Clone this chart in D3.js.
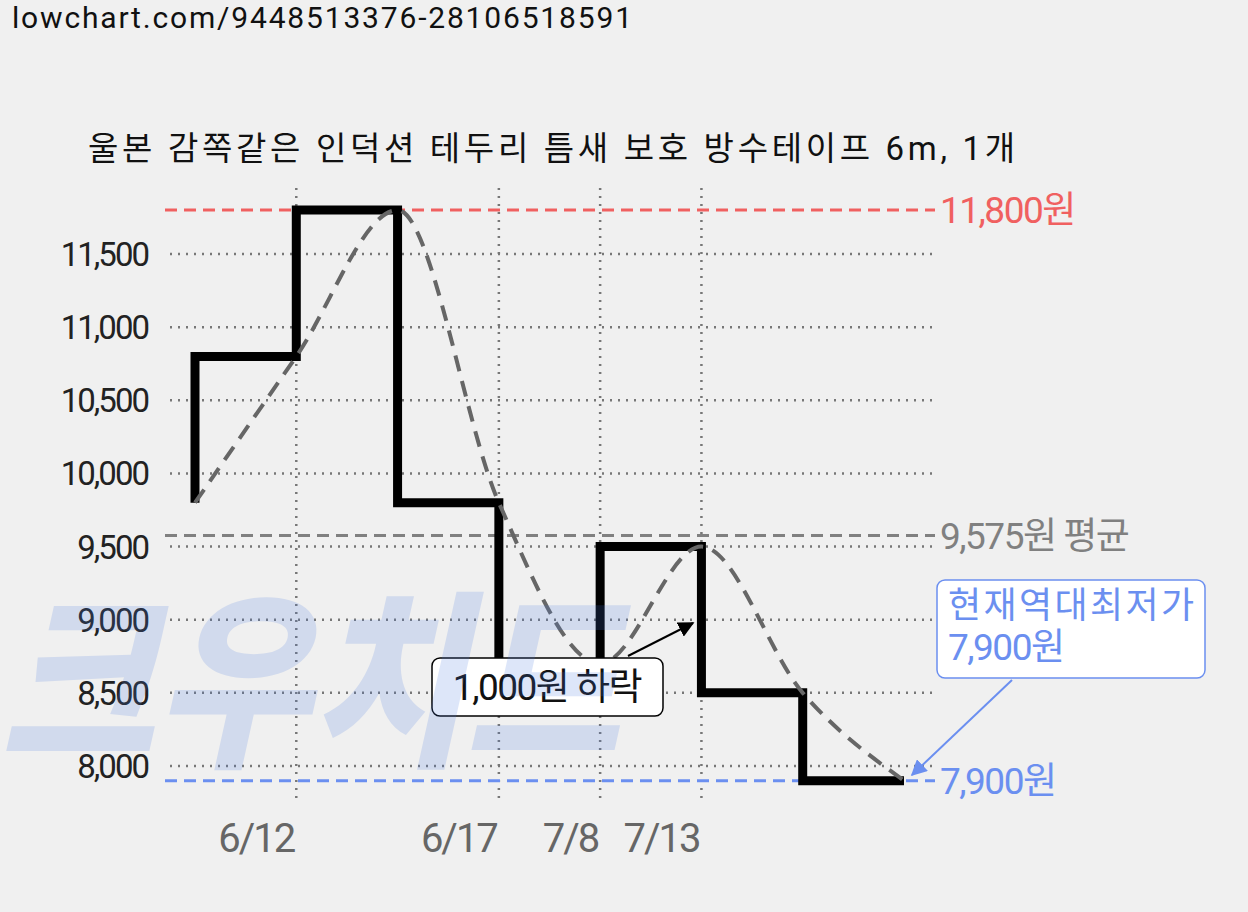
<!DOCTYPE html>
<html><head><meta charset="utf-8">
<script src="https://cdn.jsdelivr.net/npm/d3@7"></script>
<style>body{margin:0;background:#f0f0f0;}svg{display:block;font-family:Roboto,"Noto Sans CJK KR",sans-serif;}</style>
</head><body><svg id="c" width="1248" height="912"></svg>
<script>
const dates = ["", "6/12", "", "6/17", "7/8", "7/13", "", ""];
const prices = [9800, 10800, 11800, 9800, 8700, 9500, 8500, 7900];
const yTicks = [8000, 8500, 9000, 9500, 10000, 10500, 11000, 11500];
const gridDates = [1, 3, 4, 5];
const maxPrice = 11800, avgPrice = 9575, minPrice = 7900;
const title = "울본 감쪽같은 인덕션 테두리 틈새 보호 방수테이프 6m, 1개";

const svg = d3.select("#c");
const x = d3.scaleLinear().domain([0, 7]).range([195, 904]);
const y = d3.scaleLinear().domain([8000, 11500]).range([766, 254]);

svg.append("text").attr("x", 12).attr("y", 28).attr("font-size", 30).attr("fill", "#111").attr("textLength", 620).text("lowchart.com/9448513376-28106518591");
svg.append("text").attr("x", 88).attr("y", 160).attr("font-size", 33).attr("fill", "#111").attr("textLength", 927).text(title);

yTicks.forEach(t => {
  svg.append("line").attr("x1", 170).attr("x2", 935).attr("y1", y(t)).attr("y2", y(t))
    .attr("stroke", "#777").attr("stroke-width", 2.5).attr("stroke-dasharray", "2,6");
  svg.append("text").attr("x", 148).attr("y", y(t) + 12).attr("text-anchor", "end")
    .attr("font-size", 33).attr("fill", "#222").attr("letter-spacing", -2).text(d3.format(",")(t));
});
gridDates.forEach(i => {
  svg.append("line").attr("x1", x(i)).attr("x2", x(i)).attr("y1", 188).attr("y2", 803)
    .attr("stroke", "#777").attr("stroke-width", 2.5).attr("stroke-dasharray", "2,6");
});
dates.forEach((d, i) => {
  if (d) svg.append("text").attr("x", x(i) - 2).attr("y", 852).attr("text-anchor", "end")
    .attr("font-size", 40).attr("fill", "#666").attr("letter-spacing", -2).text(d);
});

const refs = [
  {v: maxPrice, c: "#f06060", t: d3.format(",")(maxPrice) + "원"},
  {v: avgPrice, c: "#808080", t: d3.format(",")(avgPrice) + "원 평균"},
  {v: minPrice, c: "#6b8ff0", t: d3.format(",")(minPrice) + "원"}
];
refs.forEach(r => {
  svg.append("line").attr("x1", 165).attr("x2", 935).attr("y1", y(r.v)).attr("y2", y(r.v))
    .attr("stroke", r.c).attr("stroke-width", 3).attr("stroke-dasharray", "12,7");
  svg.append("text").attr("x", 940).attr("y", y(r.v) + 13).attr("font-size", 37)
    .attr("fill", r.c).attr("letter-spacing", -1.5).text(r.t);
});

svg.append("path").datum(prices)
  .attr("d", d3.line().x((d, i) => x(i)).y(d => y(d)).curve(d3.curveStepBefore))
  .attr("fill", "none").attr("stroke", "#000").attr("stroke-width", 9);
svg.append("path").datum(prices)
  .attr("d", d3.line().x((d, i) => x(i)).y(d => y(d)).curve(d3.curveMonotoneX))
  .attr("fill", "none").attr("stroke", "#666").attr("stroke-width", 4).attr("stroke-dasharray", "16,10");

const defs = svg.append("defs");
[["ab", "#000"], ["ablue", "#6b8ff0"]].forEach(([id, c]) => {
  defs.append("marker").attr("id", id).attr("viewBox", "0 0 10 10").attr("refX", 9).attr("refY", 5)
    .attr("markerWidth", 8).attr("markerHeight", 8).attr("orient", "auto")
    .append("path").attr("d", "M0,0L10,5L0,10z").attr("fill", c);
});

svg.append("line").attr("x1", 628).attr("y1", 656).attr("x2", 693).attr("y2", 623)
  .attr("stroke", "#000").attr("stroke-width", 2).attr("marker-end", "url(#ab)");
svg.append("rect").attr("x", 432).attr("y", 658).attr("width", 231).attr("height", 58).attr("rx", 8)
  .attr("fill", "#fff").attr("stroke", "#000").attr("stroke-width", 1.5);
svg.append("text").attr("x", 547).attr("y", 700).attr("text-anchor", "middle").attr("font-size", 37)
  .attr("fill", "#111").attr("letter-spacing", -1.5).text("1,000원 하락");

svg.append("line").attr("x1", 1012).attr("y1", 680).attr("x2", 912).attr("y2", 775)
  .attr("stroke", "#6b8ff0").attr("stroke-width", 2).attr("marker-end", "url(#ablue)");
svg.append("rect").attr("x", 937).attr("y", 580).attr("width", 268).attr("height", 98).attr("rx", 8)
  .attr("fill", "#fff").attr("stroke", "#6b8ff0").attr("stroke-width", 1.5);
svg.append("text").attr("x", 948).attr("y", 618).attr("font-size", 36).attr("fill", "#6b8ff0").attr("textLength", 246).text("현재역대최저가");
svg.append("text").attr("x", 948).attr("y", 660).attr("font-size", 37).attr("fill", "#6b8ff0").attr("letter-spacing", -1.5).text(d3.format(",")(minPrice) + "원");

svg.append("text").attr("x", 0).attr("y", 752).attr("font-size", 190).attr("font-weight", 900)
  .attr("font-family", "'Noto Sans CJK KR'").attr("font-style", "italic")
  .attr("fill", "#4a7ae0").attr("opacity", 0.18)
  .attr("textLength", 620).attr("lengthAdjust", "spacingAndGlyphs").text("크우치드");
</script></body></html>
